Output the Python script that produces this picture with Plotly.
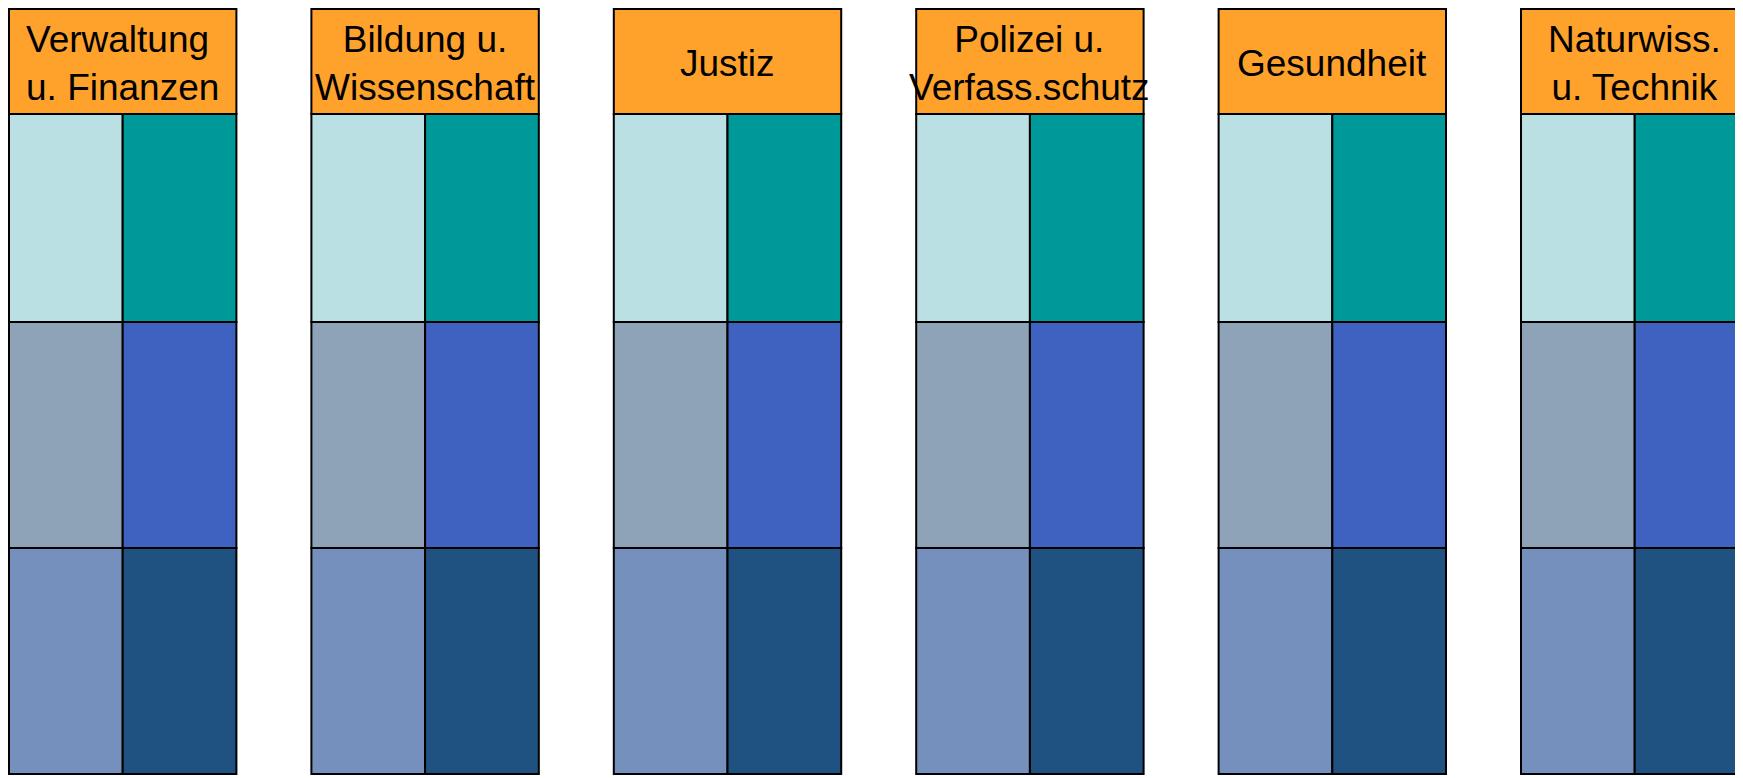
import plotly.graph_objects as go

# ---- data ----
categories = ["Verwaltung&nbsp;<br>u. Finanzen", "Bildung u.<br>Wissenschaft", "Justiz",
              "Polizei u.<br>Verfass.schutz", "Gesundheit", "Naturwiss.<br>u. Technik"]
segment_names = ["unten", "mitte", "oben"]          # bottom -> top
segment_values = [1.0, 1.0, 0.92]                   # relative heights of the three cell rows
header_value = 0.465
left_colors = ["#7690BD", "#8EA3B7", "#BBE0E3"]
right_colors = ["#1F5281", "#3F61BF", "#009999"]
header_color = "#FFA22B"

# ---- layout helpers ----
group_w = 0.752
sub_w = group_w / 2
n = len(categories)
x_left = [i + sub_w / 2 for i in range(n)]
x_right = [i + sub_w * 1.5 for i in range(n)]
x_head = [i + group_w / 2 for i in range(n)]

fig = go.Figure()
base = 0.0
for name, val, lc, rc in zip(segment_names, segment_values, left_colors, right_colors):
    fig.add_trace(go.Bar(x=x_left, y=[val] * n, base=[base] * n, width=sub_w,
                         marker=dict(color=lc, line=dict(color="black", width=2)),
                         name=name + " links", hoverinfo="skip"))
    fig.add_trace(go.Bar(x=x_right, y=[val] * n, base=[base] * n, width=sub_w,
                         marker=dict(color=rc, line=dict(color="black", width=2)),
                         name=name + " rechts", hoverinfo="skip"))
    base += val

fig.add_trace(go.Bar(x=x_head, y=[header_value] * n, base=[base] * n, width=group_w,
                     marker=dict(color=header_color, line=dict(color="black", width=2)),
                     name="Bereich", hoverinfo="skip"))

for xh, cat in zip(x_head, categories):
    fig.add_annotation(x=xh, y=base + header_value / 2 - 0.008, text=cat, showarrow=False,
                       xanchor="center", yanchor="middle",
                       font=dict(family="Liberation Sans, Arial", size=37, color="black"))

fig.update_layout(
    width=1735, height=770,
    margin=dict(l=0, r=0, t=0, b=0),
    barmode="overlay",
    showlegend=False,
    plot_bgcolor="white", paper_bgcolor="white",
    xaxis=dict(range=[-0.0033, 5.7341], visible=False, fixedrange=True),
    yaxis=dict(range=[-0.0177, 3.3894], visible=False, fixedrange=True),
)

fig.write_html("out.html")
